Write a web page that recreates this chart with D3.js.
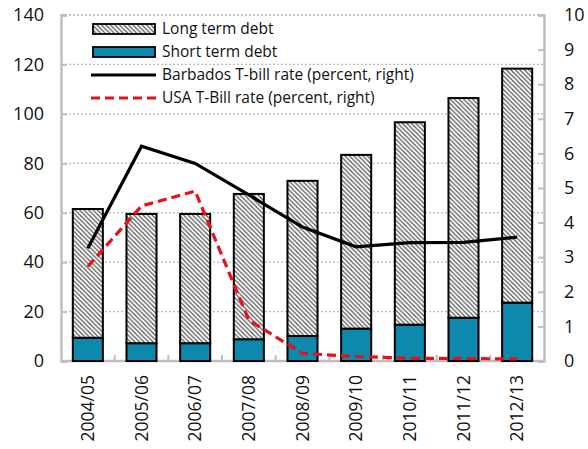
<!DOCTYPE html>
<html><head><meta charset="utf-8">
<script src="https://cdn.jsdelivr.net/npm/d3@7/dist/d3.min.js"></script>
<style>body{margin:0;background:#fff}svg{display:block}text{font-family:"Open Sans","DejaVu Sans",sans-serif;fill:#111}</style>
</head><body><svg id="c" width="588" height="449"></svg>
<script>
const categories = ["2004/05","2005/06","2006/07","2007/08","2008/09","2009/10","2010/11","2011/12","2012/13"];
const shortDebt = [9.4,7.2,7.2,8.8,10.1,13.1,14.7,17.5,23.6];
const totalDebt = [61.5,59.5,59.5,67.6,72.9,83.4,96.6,106.4,118.3];
const longDebt = totalDebt.map((t,i)=>+(t-shortDebt[i]).toFixed(1));
const barbadosRate = [3.26,6.21,5.71,4.8,3.87,3.30,3.42,3.43,3.58];
const usaRate = [2.73,4.48,4.91,1.18,0.22,0.13,0.08,0.07,0.06];
const leftTicks = [0,20,40,60,80,100,120,140];
const rightTicks = [0,1,2,3,4,5,6,7,8,9,10];

const svg = d3.select("#c");
const L=61, R=544, T=15, B=361;
const x = d3.scaleBand().domain(categories).range([L,R]).paddingInner(0.44).paddingOuter(0.22);
const xc = d3.scaleBand().domain(categories).range([L,R]);
const yL = d3.scaleLinear().domain([0,140]).range([B,T]);
const yR = d3.scaleLinear().domain([0,10]).range([B,T]);

const defs = svg.append("defs");
const pat = defs.append("pattern").attr("id","hatch").attr("patternUnits","userSpaceOnUse").attr("width",4.5).attr("height",4.5);
pat.append("rect").attr("width",4.5).attr("height",4.5).attr("fill","#fff");
pat.append("path").attr("d","M-1,-1 L5.5,5.5 M-1,3.5 L1,5.5 M3.5,-1 L5.5,1").attr("stroke","#555").attr("stroke-width",1.2);

// grid
svg.append("g").selectAll("line").data(leftTicks.filter(d=>d>0)).join("line")
  .attr("x1",L).attr("x2",R).attr("y1",d=>yL(d)).attr("y2",d=>yL(d))
  .attr("stroke","#bbb").attr("stroke-width",1.2).attr("stroke-dasharray","2,2");

const gray="#bfbfbf";
const ax = svg.append("g").attr("transform",`translate(0,${B})`)
  .call(d3.axisBottom(xc).tickSize(0));
ax.select(".domain").remove();
ax.selectAll("text").attr("x",0).attr("y",0).attr("dy","0.35em").attr("text-anchor","end")
  .attr("transform","translate(0,14) rotate(-90)").style("font-size","17.5px");
svg.append("g").selectAll("line").data(categories.slice(1)).join("line")
  .attr("x1",d=>xc(d)).attr("x2",d=>xc(d)).attr("y1",B).attr("y2",B-6)
  .attr("stroke",gray).attr("stroke-width",2);
svg.append("line").attr("x1",L).attr("x2",R).attr("y1",B).attr("y2",B).attr("stroke",gray).attr("stroke-width",2.5);

// bars
const bars = svg.append("g");
bars.selectAll(".s").data(categories).join("rect")
  .attr("x",d=>x(d)).attr("width",x.bandwidth())
  .attr("y",(d,i)=>yL(shortDebt[i])).attr("height",(d,i)=>yL(0)-yL(shortDebt[i]))
  .attr("fill","#0e89ae").attr("stroke","#000").attr("stroke-width",2);
bars.selectAll(".l").data(categories).join("rect")
  .attr("x",d=>x(d)).attr("width",x.bandwidth())
  .attr("y",(d,i)=>yL(shortDebt[i]+longDebt[i])).attr("height",(d,i)=>yL(shortDebt[i])-yL(shortDebt[i]+longDebt[i]))
  .attr("fill","url(#hatch)").attr("stroke","#000").attr("stroke-width",2);

const ayl = svg.append("g").attr("transform",`translate(${L},0)`)
  .call(d3.axisLeft(yL).tickValues(leftTicks).tickSize(-6).tickPadding(17));
ayl.select(".domain").attr("stroke",gray).attr("stroke-width",2.5);
ayl.selectAll(".tick line").attr("stroke",gray).attr("stroke-width",2);
ayl.selectAll("text").style("font-size","18px");

const ayr = svg.append("g").attr("transform",`translate(${R},0)`)
  .call(d3.axisRight(yR).tickValues(rightTicks).tickSize(-6).tickPadding(20));
ayr.select(".domain").attr("stroke",gray).attr("stroke-width",2.5);
ayr.selectAll(".tick line").attr("stroke",gray).attr("stroke-width",2);
ayr.selectAll("text").style("font-size","18px");

svg.append("line").attr("x1",L).attr("x2",R).attr("y1",T).attr("y2",T).attr("stroke","#bbb").attr("stroke-width",1.5).attr("stroke-dasharray","2,2");

const cx = d=>xc(d)+xc.bandwidth()/2;
svg.append("path").datum(barbadosRate)
  .attr("d",d3.line().x((d,i)=>cx(categories[i])).y(d=>yR(d)))
  .attr("fill","none").attr("stroke","#000").attr("stroke-width",3.2);
svg.append("path").datum(usaRate)
  .attr("d",d3.line().x((d,i)=>cx(categories[i])).y(d=>yR(d)))
  .attr("fill","none").attr("stroke","#e8101a").attr("stroke-width",3.2).attr("stroke-dasharray","9,5");

const leg = [
  {name:"Long term debt",type:"hatch"},
  {name:"Short term debt",type:"short"},
  {name:"Barbados T-bill rate (percent, right)",type:"black"},
  {name:"USA T-Bill rate (percent, right)",type:"red"}
];
const lg = svg.append("g");
leg.forEach((d,i)=>{
  const yy = 29 + i*23;
  if(d.type==="hatch"||d.type==="short"){
    lg.append("rect").attr("x",93).attr("y",yy-5).attr("width",62).attr("height",10)
      .attr("fill",d.type==="hatch"?"url(#hatch)":"#0e89ae").attr("stroke","#000").attr("stroke-width",1.8);
  } else {
    lg.append("line").attr("x1",91).attr("x2",156).attr("y1",yy).attr("y2",yy)
      .attr("stroke",d.type==="black"?"#000":"#e8101a").attr("stroke-width",3.2)
      .attr("stroke-dasharray",d.type==="red"?"9,5":null);
  }
  lg.append("text").attr("x",162).attr("y",yy).attr("dy","0.35em").style("font-size","15.5px").text(d.name);
});
</script></body></html>
